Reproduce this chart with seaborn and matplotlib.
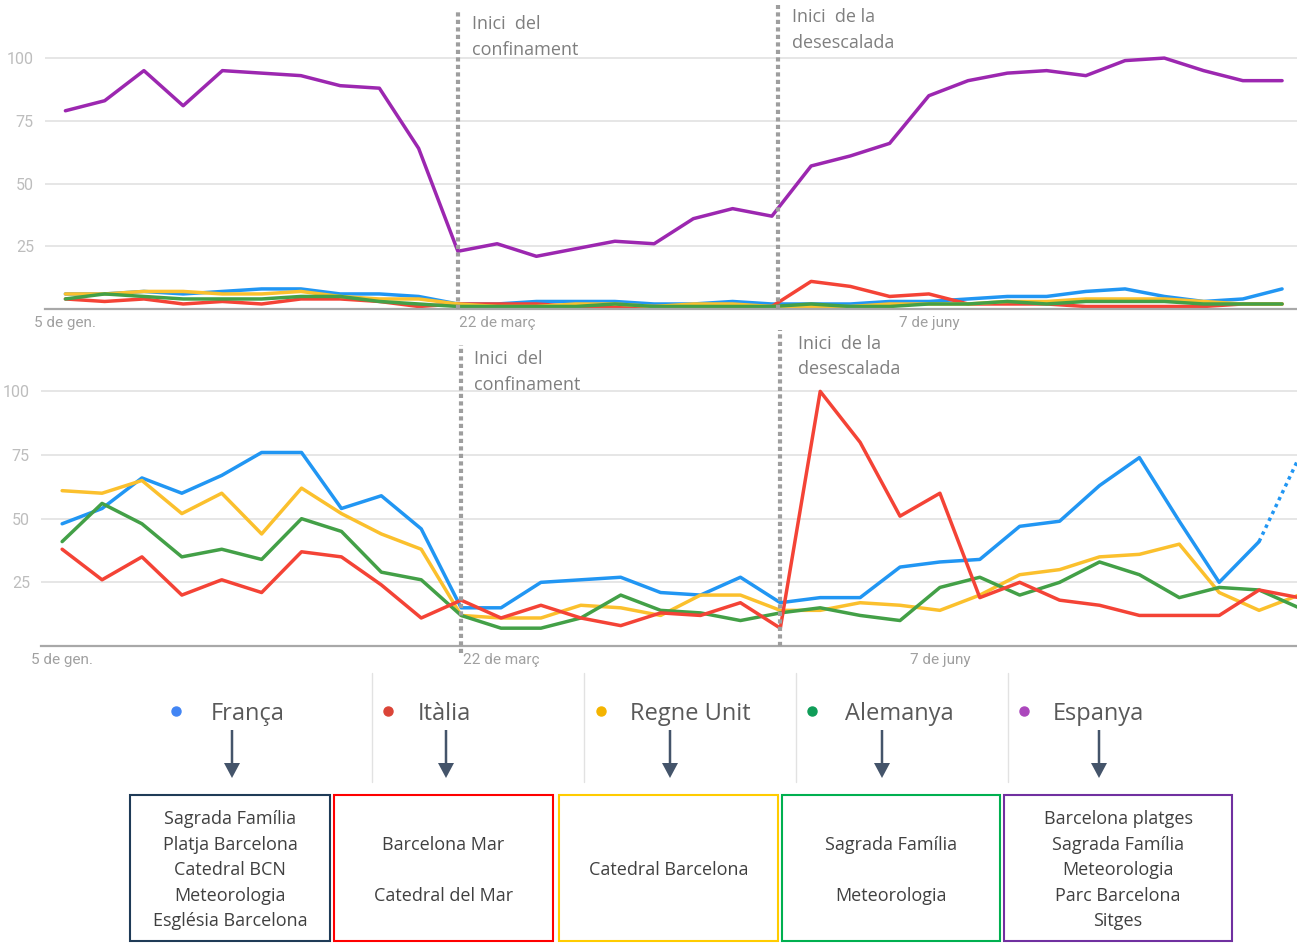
import numpy as np
import matplotlib.pyplot as plt
import seaborn as sns
from matplotlib.patches import Rectangle, FancyArrow

sns.set_style("white")
plt.rcParams['font.family'] = ['Open Sans', 'DejaVu Sans']

# setmanes (5 de gener -> finals de juliol)
setmanes = np.arange(32)
tick_pos = [0, 11, 22]
tick_labels = ["5 de gen.", "22 de març", "7 de juny"]
y_ticks = [25, 50, 75, 100]

# panell de dalt
espanya_dalt = [79, 83, 95, 81, 95, 94, 93, 89, 88, 64, 23, 26, 21, 24, 27, 26,
                36, 40, 37, 57, 61, 66, 85, 91, 94, 95, 93, 99, 100, 95, 91, 91]
franca_dalt = [6, 6, 7, 6, 7, 8, 8, 6, 6, 5, 2, 2, 3, 3, 3, 2,
               2, 3, 2, 2, 2, 3, 3, 4, 5, 5, 7, 8, 5, 3, 4, 8]
italia_dalt = [4, 3, 4, 2, 3, 2, 4, 4, 3, 1, 2, 2, 2, 1, 1, 1,
               1, 1, 1, 11, 9, 5, 6, 2, 2, 2, 1, 1, 1, 1, 2, 2]
regne_dalt = [6, 6, 7, 7, 6, 6, 7, 5, 4, 4, 2, 1, 1, 2, 2, 1,
              2, 2, 1, 1, 1, 2, 2, 2, 3, 3, 4, 4, 4, 3, 2, 2]
alemanya_dalt = [4, 6, 5, 4, 4, 4, 5, 5, 3, 2, 1, 1, 1, 1, 2, 1,
                 1, 1, 1, 2, 1, 1, 2, 2, 3, 2, 3, 3, 3, 2, 2, 2]

# panell de baix
franca_baix = [48, 54, 66, 60, 67, 76, 76, 54, 59, 46, 15, 15, 25, 26, 27, 21,
               20, 27, 17, 19, 19, 31, 33, 34, 47, 49, 63, 74, 49, 25, 41, 74]
italia_baix = [38, 26, 35, 20, 26, 21, 37, 35, 24, 11, 18, 11, 16, 11, 8, 13,
               12, 17, 7, 100, 80, 51, 60, 19, 25, 18, 16, 12, 12, 12, 22, 19]
regne_baix = [61, 60, 65, 52, 60, 44, 62, 52, 44, 38, 12, 11, 11, 16, 15, 12,
              20, 20, 14, 14, 17, 16, 14, 20, 28, 30, 35, 36, 40, 21, 14, 20]
alemanya_baix = [41, 56, 48, 35, 38, 34, 50, 45, 29, 26, 12, 7, 7, 11, 20, 14,
                 13, 10, 13, 15, 12, 10, 23, 27, 20, 25, 33, 28, 19, 23, 22, 15]

paisos = ["França", "Itàlia", "Regne Unit", "Alemanya", "Espanya"]
color_linia = ["#2196F3", "#F44336", "#FBC02D", "#43A047", "#9C27B0"]
color_punt = ["#4285F4", "#DB4437", "#F4B400", "#0F9D58", "#AB47BC"]
color_caixa = ["#1F3B57", "#FF0000", "#FFCC00", "#00B050", "#7030A0"]
cerques = [
    ["Sagrada Família", "Platja Barcelona", "Catedral BCN", "Meteorologia", "Església Barcelona"],
    ["", "Barcelona Mar", "", "Catedral del Mar", ""],
    ["", "", "Catedral Barcelona", "", ""],
    ["", "Sagrada Família", "", "Meteorologia", ""],
    ["Barcelona platges", "Sagrada Família", "Meteorologia", "Parc Barcelona", "Sitges"],
]

W, H = 1297, 943
fig = plt.figure(figsize=(W / 100, H / 100), dpi=100)

ax1 = fig.add_axes([45 / W, 1 - 309 / H, 1252 / W, 271 / H])
ax2 = fig.add_axes([41 / W, 1 - 646 / H, 1256 / W, 275 / H])


def estil(ax, xlim):
    ax.set_xlim(*xlim)
    ax.set_ylim(0, 108)
    for s in ["top", "left", "right"]:
        ax.spines[s].set_visible(False)
    ax.spines["bottom"].set_color("#a8a8a8")
    ax.spines["bottom"].set_linewidth(1.6)
    ax.set_yticks(y_ticks)
    ax.set_yticklabels([str(t) for t in y_ticks], color="#bdbdbd", fontsize=11.5, family="Roboto")
    ax.set_xticks(tick_pos)
    ax.set_xticklabels(tick_labels, color="#a0a0a0", fontsize=11, family="Roboto")
    ax.tick_params(length=0)
    ax.tick_params(axis="y", pad=8)
    ax.tick_params(axis="x", pad=5)
    ax.yaxis.grid(True, color="#e4e4e4", lw=1.3)
    ax.set_xlabel("")
    ax.set_ylabel("")


lw = 2.5
sns.lineplot(x=setmanes, y=espanya_dalt, color=color_linia[4], lw=lw, ax=ax1)
sns.lineplot(x=setmanes, y=franca_dalt, color=color_linia[0], lw=lw, ax=ax1)
sns.lineplot(x=setmanes, y=italia_dalt, color=color_linia[1], lw=lw, ax=ax1)
sns.lineplot(x=setmanes, y=regne_dalt, color=color_linia[2], lw=lw, ax=ax1)
sns.lineplot(x=setmanes, y=alemanya_dalt, color=color_linia[3], lw=lw, ax=ax1)
estil(ax1, (-0.52, 31.38))

sns.lineplot(x=setmanes[:31], y=franca_baix[:31], color=color_linia[0], lw=lw, ax=ax2)
sns.lineplot(x=setmanes[30:], y=franca_baix[30:], color=color_linia[0], lw=lw,
             linestyle=(0, (1, 1.2)), ax=ax2)
sns.lineplot(x=setmanes, y=regne_baix, color=color_linia[2], lw=lw, ax=ax2)
sns.lineplot(x=setmanes, y=alemanya_baix, color=color_linia[3], lw=lw, ax=ax2)
sns.lineplot(x=setmanes, y=italia_baix, color=color_linia[1], lw=lw, ax=ax2)
estil(ax2, (-0.53, 30.95))

# linies de confinament / desescalada
punt = dict(color="#9e9e9e", lw=3, linestyle=(0, (1, 0.8)), clip_on=False, zorder=6)
ax1.axvline(10, ymin=0, ymax=1.103, **punt)
ax1.axvline(18.16, ymin=0, ymax=1.12, **punt)
ax2.axvline(10, ymin=-0.025, ymax=1.095, **punt)
ax2.axvline(18.0, ymin=0, ymax=1.149, **punt)

# capa en pixels per a textos i llegenda
ov = fig.add_axes([0, 0, 1, 1])
ov.set_xlim(0, W)
ov.set_ylim(H, 0)
ov.axis("off")

txt = dict(color="#7f7f7f", fontsize=13, va="center", ha="left")
ov.text(472, 24, "Inici  del", **txt)
ov.text(472, 50, "confinament", **txt)
ov.text(792, 17, "Inici  de la", **txt)
ov.text(792, 43, "desescalada", **txt)
ov.text(474, 359, "Inici  del", **txt)
ov.text(474, 385, "confinament", **txt)
ov.text(798, 344, "Inici  de la", **txt)
ov.text(798, 369, "desescalada", **txt)

dot_x = [176, 388, 601, 812, 1024]
nom_x = [211, 418, 630, 845, 1053]
fletxa_x = [232, 446, 670, 882, 1099]
caixa_x = [(130, 330), (334, 553), (559, 778), (782, 1000), (1004, 1232)]
linia_y = [819, 845, 870, 896, 921]

for sx in [372, 584, 796, 1008]:
    ov.plot([sx, sx], [673, 782], color="#e2e2e2", lw=1)

for i, nom in enumerate(paisos):
    ov.plot(dot_x[i], 711, "o", ms=6.5, color=color_punt[i])
    ov.text(nom_x[i], 714, nom, color="#595959", fontsize=17, va="center", ha="left")
    ov.add_patch(FancyArrow(fletxa_x[i], 730, 0, 48, width=2.5, head_width=16,
                            head_length=15, length_includes_head=True,
                            color="#44546A", lw=0))
    x0, x1 = caixa_x[i]
    ov.add_patch(Rectangle((x0, 795), x1 - x0, 146, fill=False,
                           ec=color_caixa[i], lw=1.5))
    for j, t in enumerate(cerques[i]):
        if t:
            ov.text((x0 + x1) / 2, linia_y[j], t, color="#404040", fontsize=13,
                    va="center", ha="center")

fig.savefig("out.png", dpi=100, facecolor="white")
